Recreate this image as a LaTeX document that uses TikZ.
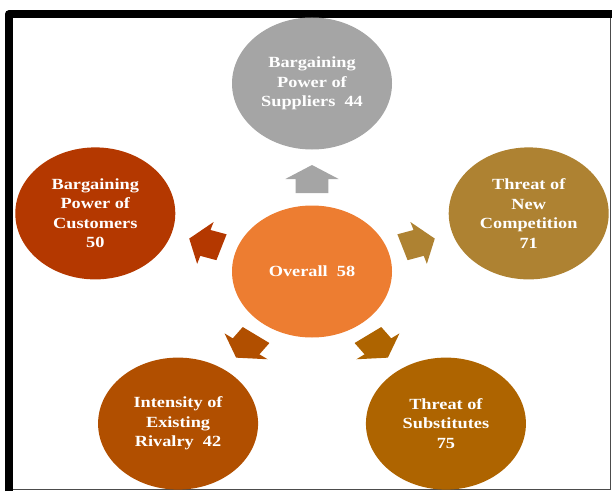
\documentclass[tikz,border=0pt]{standalone}
\usepackage{fontspec}
\newfontfamily\forcefont{Liberation Serif}[FakeStretch=1.18]
\usepackage{xcolor}
\usetikzlibrary{shapes.geometric}

\definecolor{overallorange}{HTML}{ED7D31}
\definecolor{suppliergrey}{HTML}{A5A5A5}
\definecolor{customerred}{HTML}{B43800}
\definecolor{entrantgold}{HTML}{AE8232}
\definecolor{rivalrybrown}{HTML}{B14F00}
\definecolor{substitutebrown}{HTML}{AE6400}

\begin{document}
\begin{tikzpicture}[
  x=1pt, y=1pt,
  force/.style={ellipse, minimum width=160pt, minimum height=132pt,
                inner sep=0pt, align=center, text=white,
                font=\forcefont\bfseries\fontsize{15.5}{19.5}\selectfont},
  outarrow/.pic={\fill (78.5,-13.6) -- (92.5,-13.6) -- (92.5,-22) -- (106.5,0)
                   -- (92.5,22) -- (92.5,13.6) -- (78.5,13.6) -- cycle;},
]
  \useasboundingbox (0,0) rectangle (612,491);

  % picture frame, thick on top and left
  \draw[line width=7.6pt, line join=round] (8.8,0) -- (8.8,476.8) -- (612,476.8);
  \draw[black!70, line width=0.8pt] (13,2) -- (610,2) -- (610,473);

  % the five forces round the overall score (slightly stretched sideways)
  \begin{scope}[shift={(312,219.5)}, xscale=1.212]
    \node[force, fill=overallorange] (overall) at (0,0) {Overall\ \ 58};
    \node[force, fill=suppliergrey] (suppliers) at (90:188)
      {Bargaining\\Power of\\Suppliers\ \ 44};
    \node[force, fill=entrantgold] (entrants) at (18:188)
      {Threat of\\New\\Competition\\71};
    \node[force, fill=substitutebrown] (substitutes) at (-54:188)
      {Threat of\\Substitutes\\75};
    \node[force, fill=rivalrybrown] (rivalry) at (234:188)
      {Intensity of\\Existing\\Rivalry\ \ 42};
    \node[force, fill=customerred] (customers) at (162:188)
      {Bargaining\\Power of\\Customers\\50};

    % block arrows pointing outward
    \pic[transform shape, rotate=90, suppliergrey] {outarrow};
    \pic[transform shape, rotate=18, entrantgold] {outarrow};
    \pic[transform shape, rotate=-54, substitutebrown] {outarrow};
    \pic[transform shape, rotate=234, rivalrybrown] {outarrow};
    \pic[transform shape, rotate=162, customerred] {outarrow};
  \end{scope}

\end{tikzpicture}
\end{document}
